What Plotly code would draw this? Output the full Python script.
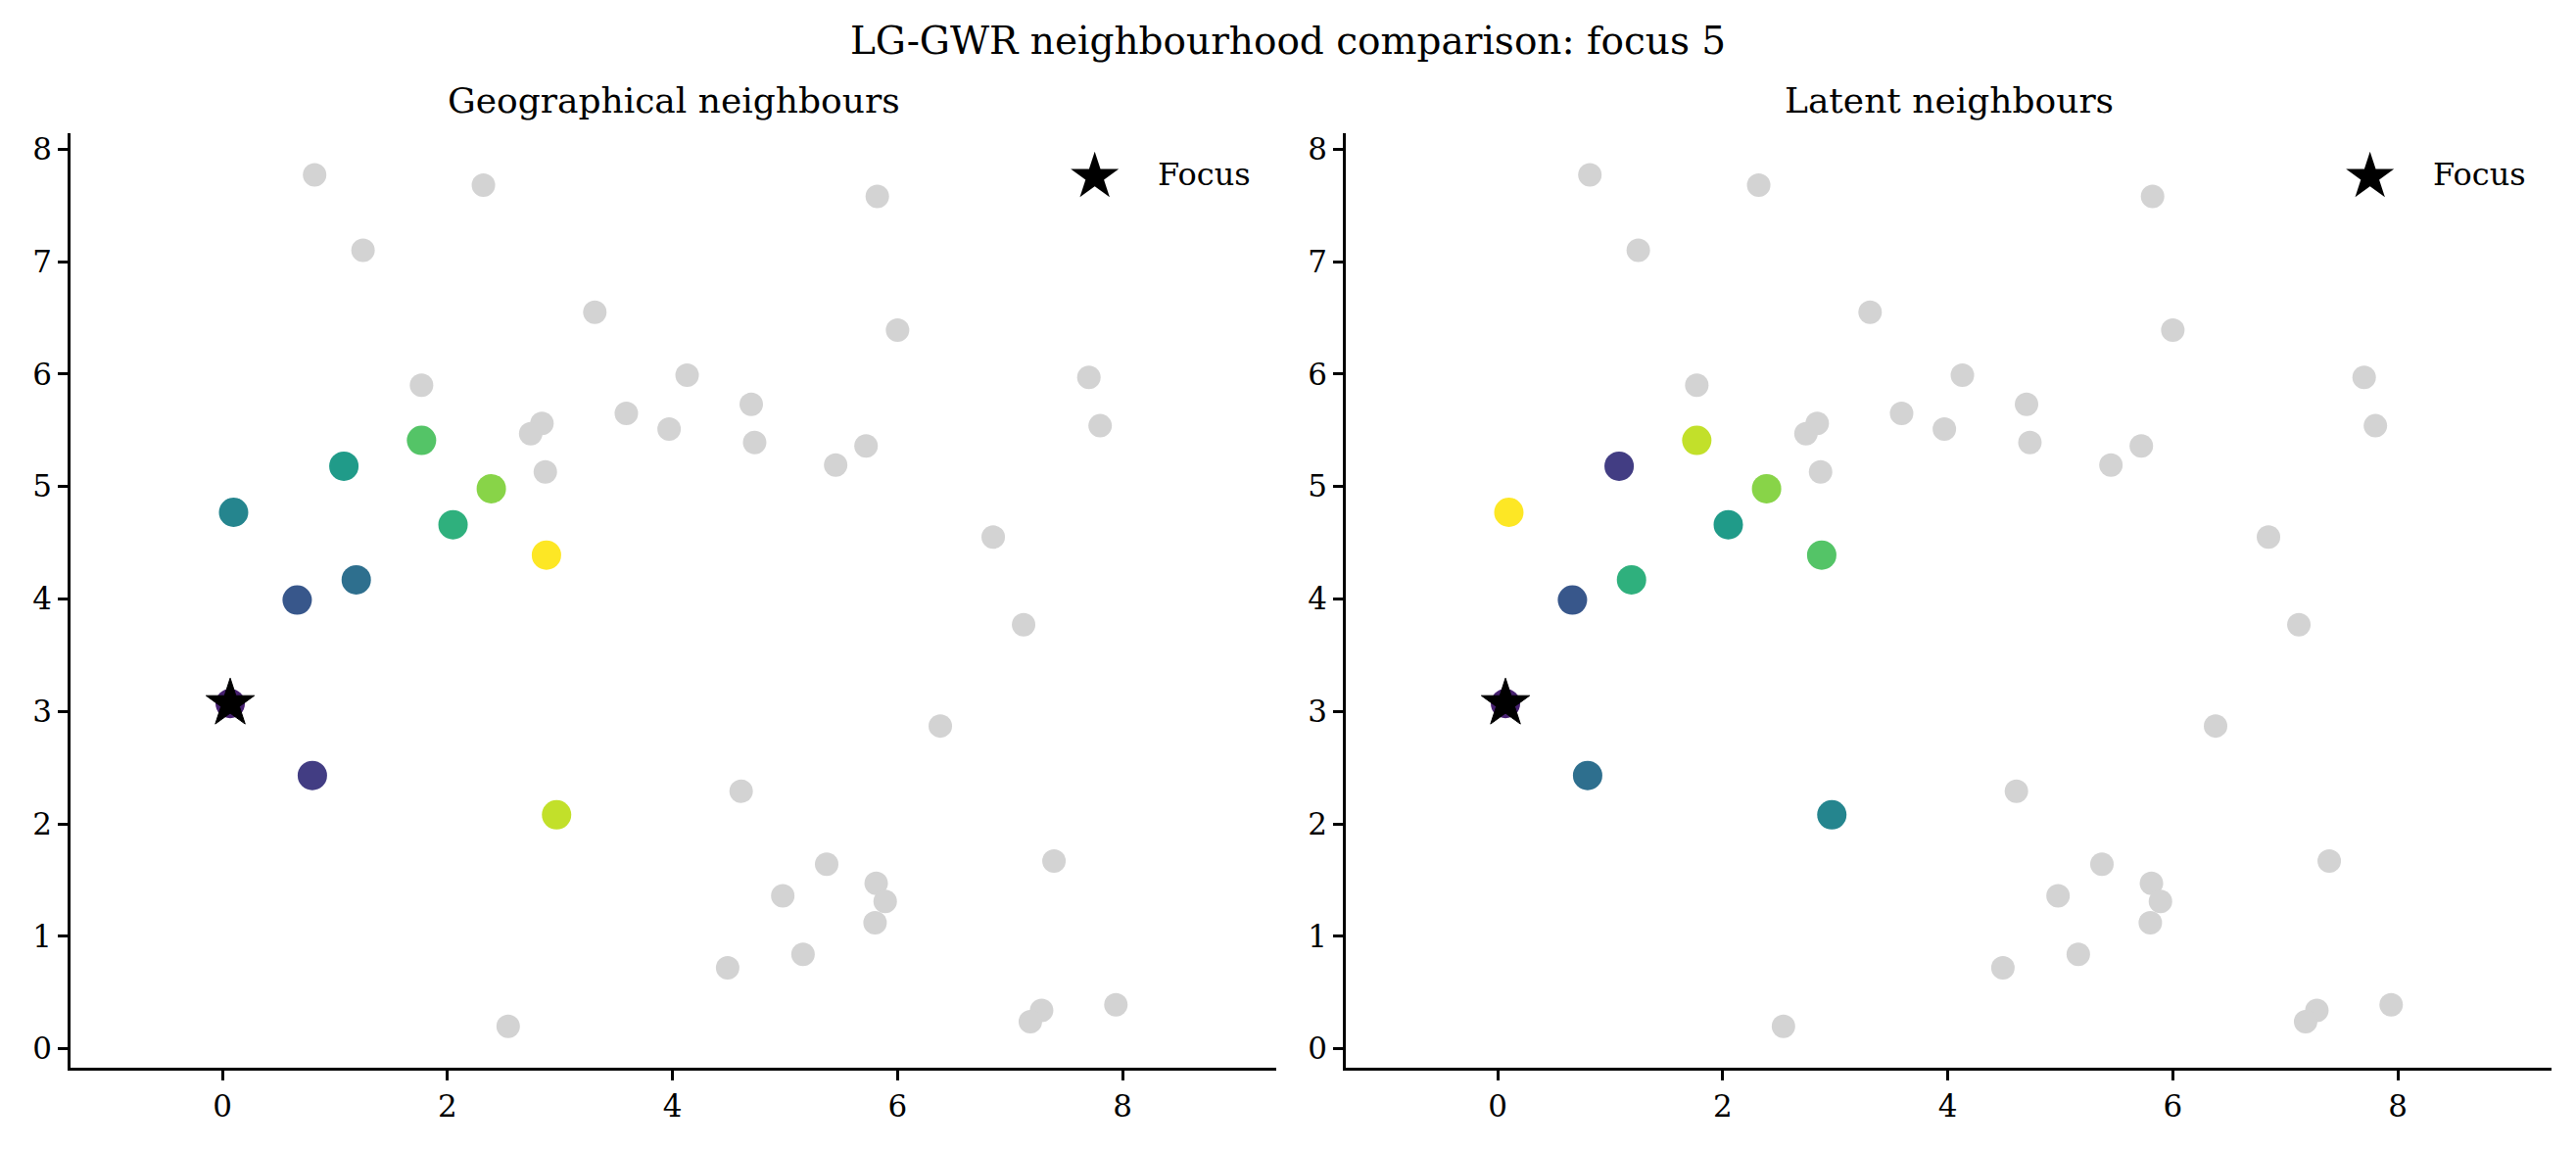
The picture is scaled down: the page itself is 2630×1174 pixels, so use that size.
import plotly.graph_objects as go

# focus location (observation 5)
focus_x = [0.07]
focus_y = [3.07]

# points outside both neighbourhoods (light grey)
other_x = [0.82, 2.32, 1.25, 5.82, 3.31, 6.00, 4.13, 7.70, 1.77, 3.59,
           2.84, 2.74, 4.70, 3.97, 4.73, 5.72, 5.45, 7.80, 2.87, 6.85,
           7.12, 6.38, 4.61, 5.37, 7.39, 5.81, 4.98, 5.89, 5.80, 5.16,
           4.49, 2.54, 7.28, 7.18, 7.94]
other_y = [7.77, 7.68, 7.10, 7.58, 6.55, 6.39, 5.99, 5.97, 5.90, 5.65,
           5.56, 5.47, 5.73, 5.51, 5.39, 5.36, 5.19, 5.54, 5.13, 4.55,
           3.77, 2.87, 2.29, 1.64, 1.67, 1.47, 1.36, 1.31, 1.12, 0.84,
           0.72, 0.20, 0.34, 0.24, 0.39]

# focus + its 10 neighbours (same locations in both panels)
nbr_x = [0.07, 0.80, 0.665, 1.19, 0.10, 1.08, 2.05, 1.77, 2.39, 2.97, 2.88]
nbr_y = [3.07, 2.43, 3.99, 4.17, 4.77, 5.18, 4.66, 5.41, 4.98, 2.08, 4.39]

# neighbour rank used for colouring
geo_rank = [0, 1, 2, 3, 4, 5, 6, 7, 8, 9, 10]
latent_rank = [0, 3, 2, 6, 10, 1, 5, 9, 8, 4, 7]

panel_titles = ["Geographical neighbours", "Latent neighbours"]
suptitle = "LG-GWR neighbourhood comparison: focus 5"

# page body has an 8px margin, so the figure is a bit smaller than the window
W, H = 2614, 1158
OFF = 8
FONT = "DejaVu Serif"

fig = go.Figure()

for i, ranks in enumerate([geo_rank, latent_rank]):
    xa = "x" if i == 0 else "x2"
    ya = "y" if i == 0 else "y2"
    fig.add_trace(go.Scatter(
        x=other_x, y=other_y, mode="markers", xaxis=xa, yaxis=ya,
        marker=dict(color="#d3d3d3", size=24, line=dict(width=0)),
        showlegend=False, hoverinfo="skip"))
    fig.add_trace(go.Scatter(
        x=nbr_x, y=nbr_y, mode="markers", xaxis=xa, yaxis=ya,
        marker=dict(color=[r + 1 for r in ranks], colorscale="Viridis",
                    cmin=0, cmax=11, size=30, line=dict(width=0)),
        showlegend=False))
    fig.add_trace(go.Scatter(
        x=focus_x, y=focus_y, mode="markers", xaxis=xa, yaxis=ya,
        marker=dict(symbol="star", color="black", size=37,
                    line=dict(color="black", width=1)),
        name="Focus", showlegend=False))

axis_common = dict(
    showline=True, linecolor="black", linewidth=2.5,
    ticks="outside", ticklen=10, tickwidth=2.5, tickcolor="black",
    showgrid=False, zeroline=False,
    tickfont=dict(family=FONT, size=31, color="black"),
)

# panel placement in screenshot pixels -> paper fractions
left_px = [(72, 1303), (1374, 2605)]
top_px, bottom_px = 134, 1090
ydom = [1 - (bottom_px - OFF) / H, 1 - (top_px - OFF) / H]
xdom = [[(a - OFF) / W, (b - OFF) / W] for a, b in left_px]

fig.update_layout(
    xaxis=dict(domain=xdom[0], range=[-1.349, 9.365], tick0=0, dtick=2,
               anchor="y", **axis_common),
    yaxis=dict(domain=ydom, range=[-0.170, 8.143], tick0=0, dtick=1,
               anchor="x", **axis_common),
    xaxis2=dict(domain=xdom[1], range=[-1.349, 9.365], tick0=0, dtick=2,
                anchor="y2", **axis_common),
    yaxis2=dict(domain=ydom, range=[-0.170, 8.143], tick0=0, dtick=1,
                anchor="x2", **axis_common),
)

annotations = []
for i, t in enumerate(panel_titles):
    xr = "x domain" if i == 0 else "x2 domain"
    yr = "y domain" if i == 0 else "y2 domain"
    annotations.append(dict(text=t, xref=xr, yref=yr, x=0.5, y=1.035,
                            xanchor="center", yanchor="middle", showarrow=False,
                            font=dict(family=FONT, size=36, color="black")))
    # legend key (star + label)
    annotations.append(dict(text="★", xref=xr, yref=yr, x=0.8497, y=0.9545,
                            xanchor="center", yanchor="middle", showarrow=False,
                            font=dict(family="DejaVu Sans", size=64, color="black")))
    annotations.append(dict(text="Focus", xref=xr, yref=yr, x=0.9001, y=0.9555,
                            xanchor="left", yanchor="middle", showarrow=False,
                            font=dict(family=FONT, size=32, color="black")))

fig.update_layout(
    width=W, height=H,
    margin=dict(l=0, r=0, t=0, b=0),
    paper_bgcolor="white", plot_bgcolor="white",
    title=dict(text=suptitle, x=0.5, xanchor="center", y=1 - (41 - OFF) / H,
               yanchor="middle", font=dict(family=FONT, size=39, color="black")),
    annotations=annotations,
    showlegend=False,
)

fig.write_html("out.html")
